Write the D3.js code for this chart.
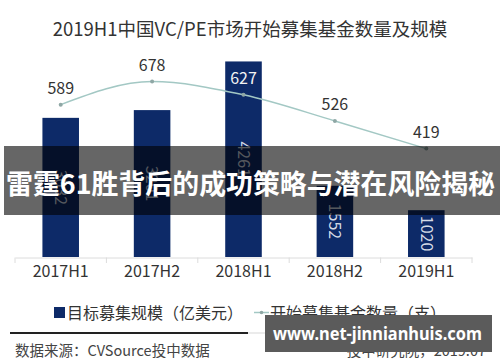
<!DOCTYPE html>
<html><head><meta charset="utf-8">
<script src="https://cdn.jsdelivr.net/npm/d3@7"></script>
<style>
html,body{margin:0;padding:0;background:#fff;}
svg{display:block;font-family:"Noto Sans CJK SC","Noto Sans",sans-serif;}
</style></head>
<body>
<svg id="chart" width="500" height="362"></svg>
<script>
const titleText = "2019H1中国VC/PE市场开始募集基金数量及规模";
const categories = ["2017H1", "2017H2", "2018H1", "2018H2", "2019H1"];
const targetScale = [3032, 3201, 4261, 1552, 1020];   // 目标募集规模（亿美元）
const fundCount = [589, 678, 627, 526, 419];          // 开始募集基金数量（支）
const legendLabels = ["目标募集规模（亿美元）", "开始募集基金数量（支）"];
const sourceText = "数据来源：CVSource投中数据";
const creditText = "投中研究院，2019.07";
const bannerText = "雷霆61胜背后的成功策略与潜在风险揭秘";
const watermarkText = "www.net-jinnianhuis.com";

const svg = d3.select("#chart");
const barColor = "#0d2a68";
const lineColor = "#a3c8c4";

const x = d3.scaleBand().domain(categories).range([15, 472]).paddingInner(0.6).paddingOuter(0.3);
const yBar = d3.scaleLinear().domain([0, 5600]).range([257, 0]);
const yLine = d3.scaleLinear().domain([0, 1000]).range([257, -1.7]);

// title
svg.append("text").attr("x", 250).attr("y", 36).attr("text-anchor", "middle")
  .attr("font-size", 18.5).attr("fill", "#333").text(titleText);

// axis
const xAxis = d3.axisBottom(x).tickSize(0).tickFormat(d => d);
const ax = svg.append("g").attr("transform", "translate(0,257.5)").call(xAxis);
ax.select(".domain").attr("stroke", "#dcdcdc");
ax.selectAll("text").attr("font-size", 16).attr("fill", "#333").attr("dy", "1.05em")
  .attr("font-family", "'Noto Sans CJK SC',sans-serif");
const step = x.step();
const cx = i => x(categories[i]) + x.bandwidth() / 2;
const tickPos = d3.range(categories.length + 1).map(i => cx(0) - step / 2 + i * step);
svg.append("g").selectAll("line").data(tickPos).join("line")
  .attr("x1", d => d).attr("x2", d => d)
  .attr("y1", 257.5).attr("y2", 263).attr("stroke", "#dcdcdc");

// bars
svg.append("g").selectAll("rect").data(targetScale).join("rect")
  .attr("x", (d, i) => x(categories[i]))
  .attr("width", x.bandwidth())
  .attr("y", d => yBar(d))
  .attr("height", d => yBar(0) - yBar(d))
  .attr("fill", barColor);

// bar labels (rotated)
svg.append("g").selectAll("text").data(targetScale).join("text")
  .attr("transform", (d, i) => {
    const cy = (yBar(d) + yBar(0)) / 2;
    return `translate(${cx(i)},${cy}) rotate(90)`;
  })
  .attr("text-anchor", "middle").attr("dy", "0.35em")
  .attr("font-size", 16).attr("fill", "#d5dbe6").text(d => d);

// line
const line = d3.line().x((d, i) => cx(i)).y(d => yLine(d)).curve(d3.curveMonotoneX);
svg.append("path").datum(fundCount).attr("d", line)
  .attr("fill", "none").attr("stroke", lineColor).attr("stroke-width", 1.5);
svg.append("g").selectAll("circle").data(fundCount).join("circle")
  .attr("cx", (d, i) => cx(i)).attr("cy", d => yLine(d)).attr("r", 2)
  .attr("fill", "#8fa7a5");
svg.append("g").selectAll("text").data(fundCount).join("text")
  .attr("x", (d, i) => cx(i)).attr("y", d => yLine(d) - 11)
  .attr("text-anchor", "middle").attr("font-size", 16)
  .attr("fill", (d, i) => i === 2 ? "#f2f2f2" : "#333").text(d => d);

// legend
const lg = svg.append("g");
lg.append("rect").attr("x", 54).attr("y", 307).attr("width", 11).attr("height", 11).attr("fill", barColor);
lg.append("text").attr("x", 67).attr("y", 318.5).attr("font-size", 16).attr("fill", "#333").text(legendLabels[0]);
lg.append("line").attr("x1", 254).attr("x2", 269).attr("y1", 312.5).attr("y2", 312.5).attr("stroke", lineColor).attr("stroke-width", 1.5);
lg.append("circle").attr("cx", 261.5).attr("cy", 312.5).attr("r", 1.8).attr("fill", "#8fa7a5");
lg.append("text").attr("x", 270).attr("y", 318.5).attr("font-size", 16).attr("fill", "#333").text(legendLabels[1]);

// footer
svg.append("line").attr("x1", 10).attr("x2", 248).attr("y1", 333).attr("y2", 333).attr("stroke", "#222").attr("stroke-width", 2);
svg.append("line").attr("x1", 248).attr("x2", 490).attr("y1", 333).attr("y2", 333).attr("stroke", "#e4e4e4").attr("stroke-width", 1.5);
svg.append("text").attr("x", 15).attr("y", 356).attr("font-size", 14.5).attr("fill", "#444").text(sourceText);
svg.append("text").attr("x", 486).attr("y", 356).attr("text-anchor", "end").attr("font-size", 14.5).attr("fill", "#444").text(creditText);

// banner overlay
svg.append("rect").attr("x", 4).attr("y", 146).attr("width", 496).attr("height", 69).attr("fill", "rgba(0,0,0,0.6)");
svg.append("text").attr("x", 6).attr("y", 194)
  .attr("textLength", 489).attr("lengthAdjust", "spacingAndGlyphs")
  .attr("font-size", 27).attr("font-weight", "bold").attr("fill", "#fff").text(bannerText);

// watermark box
svg.append("rect").attr("x", 265).attr("y", 315).attr("width", 227).attr("height", 37).attr("fill", "#5b5b5b");
svg.append("text").attr("x", 273).attr("y", 339.5)
  .attr("textLength", 209).attr("lengthAdjust", "spacingAndGlyphs")
  .attr("font-size", 17.5).attr("font-weight", "bold").attr("fill", "#fff")
  .attr("font-family", "'Noto Sans','DejaVu Sans',sans-serif").text(watermarkText);
</script>
</body></html>
